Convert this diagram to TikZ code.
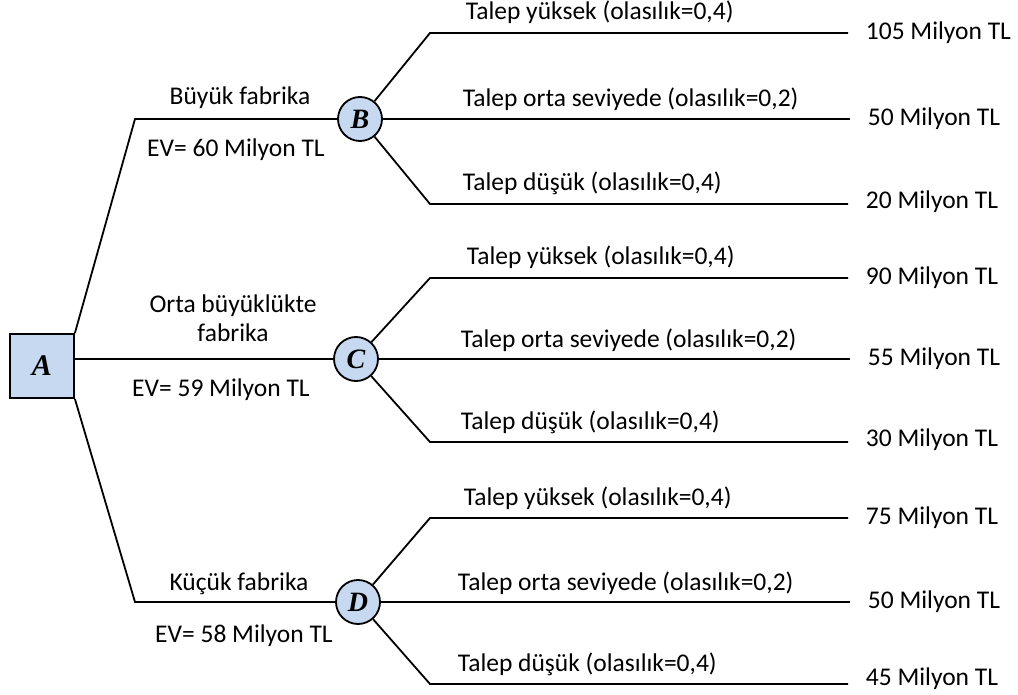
\documentclass[tikz,border=0pt]{standalone}
\usepackage{fontspec}
\setmainfont{Carlito}
\newfontfamily\letterfont{Liberation Serif}
\usetikzlibrary{positioning}
\definecolor{nodeblue}{RGB}{198,217,241}

\begin{document}
\begin{tikzpicture}[x=1pt,y=-1pt,line width=1.8pt,
                    font=\fontsize{25.5}{29}\selectfont]
                    \tikzstyle{decision}=[rectangle,draw,fill=nodeblue,minimum size=64pt,inner sep=0pt,font=\fontsize{30}{30}\letterfont\bfseries\itshape]
                    \tikzstyle{chance}=[circle,draw,fill=nodeblue,minimum size=44pt,inner sep=0pt,font=\fontsize{28}{28}\letterfont\bfseries\itshape]
                    \tikzstyle{payoff}=[anchor=west,inner xsep=17pt,inner ysep=0pt]
                    \tikzstyle{branch}=[anchor=base west,inner sep=0pt]
                    \tikzstyle{choice}=[anchor=base,inner sep=0pt]
                    \useasboundingbox (0,0) rectangle (1018,695);
                    \node[decision] (A) at (42,366) {A};
                    \node[chance] (B) at (360,119) {B};
                    \node[chance] (C) at (356,359) {C};
                    \node[chance] (D) at (358,602) {D};
                    \coordinate (kB) at (135,119);
                    \coordinate (kD) at (135,602);
                    \draw (A.north east) -- (kB) -- (B);
                    \draw (A.east |- C) -- (C);
                    \draw (A.south east) -- (kD) -- (D);
                    \node[choice] (lB) at (240,105) {Büyük fabrika};
                    \node[choice] (eB) at (236,157) {EV= 60 Milyon TL};
                    \node[align=center,inner sep=0pt] (lC) at (233,318) {Orta büyüklükte\\fabrika};
                    \node[choice] (eC) at (221,396) {EV= 59 Milyon TL};
                    \node[choice] (lD) at (239,590) {Küçük fabrika};
                    \node[choice] (eD) at (244,642) {EV= 58 Milyon TL};
                    \coordinate (b1) at (430,33);
                    \coordinate (b3) at (430,204);
                    \node[payoff] (vB1) at (848,33) {105 Milyon TL};
                    \node[payoff] (vB2) at (850,119) {50 Milyon TL};
                    \node[payoff] (vB3) at (848,202) {20 Milyon TL};
                    \draw (B) -- (b1) -- (vB1.west);
                    \draw (B) -- (vB2.west);
                    \draw (B) -- (b3) -- (vB3.west |- b3);
                    \node[branch] (tB1) at (465,20) {Talep yüksek (olasılık=0,4)};
                    \node[branch] (tB2) at (462,107) {Talep orta seviyede (olasılık=0,2)};
                    \node[branch] (tB3) at (462,191) {Talep düşük (olasılık=0,4)};
                    \coordinate (c1) at (430,278);
                    \coordinate (c3) at (430,442);
                    \node[payoff] (vC1) at (848,278) {90 Milyon TL};
                    \node[payoff] (vC2) at (850,359) {55 Milyon TL};
                    \node[payoff] (vC3) at (848,440) {30 Milyon TL};
                    \draw (C) -- (c1) -- (vC1.west);
                    \draw (C) -- (vC2.west);
                    \draw (C) -- (c3) -- (vC3.west |- c3);
                    \node[branch] (tC1) at (466,265) {Talep yüksek (olasılık=0,4)};
                    \node[branch] (tC2) at (460,347) {Talep orta seviyede (olasılık=0,2)};
                    \node[branch] (tC3) at (460,429) {Talep düşük (olasılık=0,4)};
                    \coordinate (d1) at (430,518);
                    \coordinate (d3) at (430,684);
                    \node[payoff] (vD1) at (848,518) {75 Milyon TL};
                    \node[payoff] (vD2) at (850,602) {50 Milyon TL};
                    \node[payoff] (vD3) at (848,679) {45 Milyon TL};
                    \draw (D) -- (d1) -- (vD1.west);
                    \draw (D) -- (vD2.west);
                    \draw (D) -- (d3) -- (vD3.west |- d3);
                    \node[branch] (tD1) at (463,505) {Talep yüksek (olasılık=0,4)};
                    \node[branch] (tD2) at (457,590) {Talep orta seviyede (olasılık=0,2)};
                    \node[branch] (tD3) at (457,671) {Talep düşük (olasılık=0,4)};
                \end{tikzpicture}
\end{document}
